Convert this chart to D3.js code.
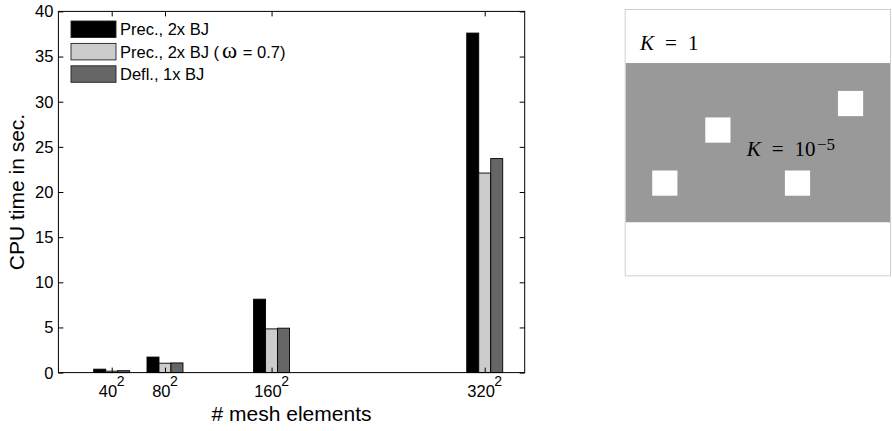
<!DOCTYPE html>
<html><head><meta charset="utf-8">
<script src="https://cdn.jsdelivr.net/npm/d3@7"></script>
<style>
body{margin:0;background:#fff;}
svg{display:block;}
svg text{fill:#000;}
</style></head><body>
<svg id="c" width="892" height="431" font-family="Liberation Sans, Arial, sans-serif"></svg>
<script>
// ---- data ----
const meshSizes = [40, 80, 160, 320];
const meshLabels = ["40", "80", "160", "320"];
const seriesNames = ["Prec., 2x BJ", "Prec., 2x BJ (ω = 0.7)", "Defl., 1x BJ"];
const seriesColors = ["#000000", "#cccccc", "#666666"];
const precBJ = [0.38, 1.72, 8.13, 37.6];
const precBJomega = [0.16, 1.04, 4.84, 22.1];
const deflBJ = [0.21, 1.07, 4.92, 23.7];
const yTicks = [0, 5, 10, 15, 20, 25, 30, 35, 40];
// right panel (permeability field)
const bandRange = [0.2, 0.8];
const inclusions = [{x:0.1,y:0.3},{x:0.3,y:0.5},{x:0.6,y:0.3},{x:0.8,y:0.6}];
const inclusionSize = 0.095;

const series = [precBJ, precBJomega, deflBJ];
const svg = d3.select("#c");
const serif = "'Liberation Serif', 'DejaVu Serif', serif";

// ---- left chart ----
const x = d3.scaleLinear().domain([0, 350]).range([58.4, 524.7]);
const y = d3.scaleLinear().domain([0, 40]).range([372.6, 11.4]);
const barW = 9; // data units
const tickLen = 5;

const g = svg.append("g");
series.forEach((vals, si) => {
  g.selectAll(null).data(vals).enter().append("rect")
    .attr("x", (d, i) => x(meshSizes[i] + (si - 1.5) * barW))
    .attr("width", (d, i) => x(meshSizes[i] + (si - 0.5) * barW) - x(meshSizes[i] + (si - 1.5) * barW))
    .attr("y", d => y(d))
    .attr("height", d => y(0) - y(d))
    .attr("fill", seriesColors[si])
    .attr("stroke", "#000").attr("stroke-width", 0.9);
});

// axes box
const [x0, x1] = x.range(), [yb, yt] = y.range();
g.append("rect").attr("x", x0).attr("y", yt).attr("width", x1 - x0).attr("height", yb - yt)
  .attr("fill", "none").attr("stroke", "#000").attr("stroke-width", 1);

// y ticks (left + right inward)
const yAxL = d3.axisRight(y).tickValues(yTicks).tickSize(tickLen).tickFormat("");
const yAxR = d3.axisLeft(y).tickValues(yTicks).tickSize(tickLen).tickFormat("");
g.append("g").attr("transform", `translate(${x0},0)`).call(yAxL);
g.append("g").attr("transform", `translate(${x1},0)`).call(yAxR);
g.selectAll(".domain").remove();
g.selectAll(".tick line").attr("stroke", "#000");
// y tick labels
g.selectAll(null).data(yTicks).enter().append("text")
  .attr("x", x0 - 5).attr("y", d => y(d)).attr("dy", "0.36em")
  .attr("text-anchor", "end").attr("font-size", 16.5).text(d => d);

// x ticks (bottom + top inward)
const xAxB = d3.axisTop(x).tickValues(meshSizes).tickSize(tickLen).tickFormat("");
const xAxT = d3.axisBottom(x).tickValues(meshSizes).tickSize(tickLen).tickFormat("");
const gb = g.append("g").attr("transform", `translate(0,${yb})`).call(xAxB);
const gt = g.append("g").attr("transform", `translate(0,${yt})`).call(xAxT);
gb.select(".domain").remove(); gt.select(".domain").remove();
gb.selectAll("line").attr("stroke", "#000"); gt.selectAll("line").attr("stroke", "#000");
// x tick labels with superscript 2
meshSizes.forEach((m, i) => {
  const t = g.append("text").attr("x", x(m)).attr("y", yb + 24).attr("text-anchor", "middle").attr("font-size", 16.5);
  t.append("tspan").text(meshLabels[i]);
  t.append("tspan").attr("dy", -11).attr("dx", -0.5).attr("font-size", 14).text("2");
});

// axis labels
g.append("text").attr("x", (x0 + x1) / 2).attr("y", 421).attr("text-anchor", "middle")
  .attr("font-size", 21).text("# mesh elements");
g.append("text").attr("transform", `translate(23.5,${(yb + yt) / 2}) rotate(-90)`)
  .attr("text-anchor", "middle").attr("font-size", 21).text("CPU time in sec.");

// legend
const lg = g.append("g");
seriesNames.forEach((name, i) => {
  const top = 21 + i * 22.4;
  lg.append("rect").attr("x", 71).attr("y", top).attr("width", 45).attr("height", 16.5)
    .attr("fill", seriesColors[i]).attr("stroke", "#222").attr("stroke-width", 0.9);
  const t = lg.append("text").attr("x", 120).attr("y", top + 8.3).attr("dy", "0.36em").attr("font-size", 16.5);
  if (name.includes("ω")) {
    const parts = name.split("ω");
    t.append("tspan").text(parts[0]);
    t.append("tspan").attr("dx", 3).style("font-family", serif).attr("font-size", 23).text("ω");
    t.append("tspan").attr("dx", 1).text(parts[1]);
  } else t.text(name);
});

// ---- right panel ----
const px = d3.scaleLinear().domain([0, 1]).range([625.7, 891]);
const py = d3.scaleLinear().domain([0, 1]).range([275.3, 10]);
const rp = svg.append("g");
rp.append("rect").attr("x", px(0)).attr("y", py(1)).attr("width", px(1) - px(0)).attr("height", py(0) - py(1))
  .attr("fill", "#fff");
rp.append("rect").attr("x", px(0)).attr("y", py(bandRange[1]))
  .attr("width", px(1) - px(0)).attr("height", py(bandRange[0]) - py(bandRange[1]))
  .attr("fill", "#999999");
rp.selectAll(null).data(inclusions).enter().append("rect")
  .attr("x", d => px(d.x)).attr("y", d => py(d.y + inclusionSize))
  .attr("width", px(inclusionSize) - px(0)).attr("height", py(0) - py(inclusionSize))
  .attr("fill", "#fff");
rp.append("rect").attr("x", px(0) - 0.5).attr("y", py(1) - 0.5).attr("width", px(1) - px(0)).attr("height", py(0) - py(1) + 1)
  .attr("fill", "none").attr("stroke", "#cfcfcf").attr("stroke-width", 1);

const k1 = rp.append("text").attr("x", px(0.054)).attr("y", py(0.85)).attr("font-size", 21).style("font-family", serif);
k1.append("tspan").style("font-style", "italic").text("K");
k1.append("tspan").attr("dx", 11).text("=");
k1.append("tspan").attr("dx", 11).text("1");
const k2 = rp.append("text").attr("x", px(0.456)).attr("y", py(0.45)).attr("font-size", 21).style("font-family", serif);
k2.append("tspan").style("font-style", "italic").text("K");
k2.append("tspan").attr("dx", 11).text("=");
k2.append("tspan").attr("dx", 11).text("10");
k2.append("tspan").attr("dy", -6).attr("dx", 1.5).attr("font-size", 17).text("−5");
</script>
</body></html>
